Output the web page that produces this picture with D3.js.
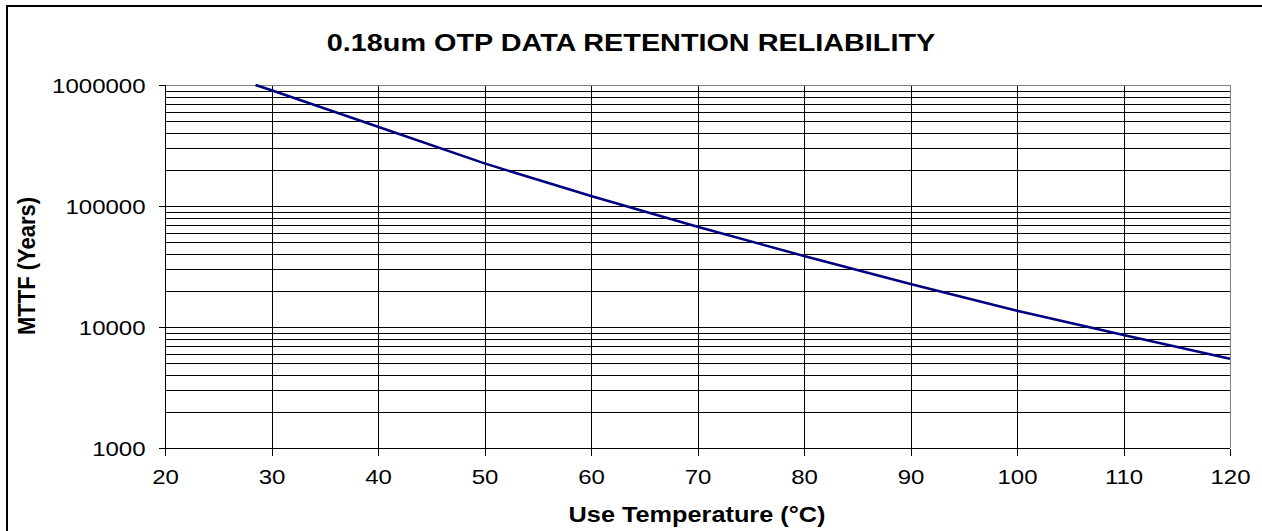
<!DOCTYPE html>
<html>
<head>
<meta charset="utf-8">
<script src="https://cdn.jsdelivr.net/npm/d3@7"></script>
<style>
  html, body { margin: 0; padding: 0; background: #fff; overflow: hidden; }
  svg { display: block; }
  text { font-family: "Liberation Sans", Arial, sans-serif; fill: #000; }
</style>
</head>
<body>
<svg id="chart" width="1262" height="531"></svg>
<script>
// ---- data ----
const title = "0.18um OTP DATA RETENTION RELIABILITY";
const xLabel = "Use Temperature (°C)";
const yLabel = "MTTF (Years)";
const temperatures = [28.5, 30, 40, 50, 60, 70, 80, 90, 100, 110, 120];
const mttfYears    = [1000000, 905000, 452000, 225000, 121000, 67400, 38600, 22650, 13640, 8590, 5470];
const xTicks = [20, 30, 40, 50, 60, 70, 80, 90, 100, 110, 120];
const yTicks = [1000, 10000, 100000, 1000000];
const xDomain = [20, 120];
const yDomain = [1000, 1000000];

(function () {
// ---- layout ----
const svg = d3.select("#chart");
const pL = 165, pR = 1230, pT = 85, pB = 448;
const x = d3.scaleLinear().domain(xDomain).range([pL, pR]);
const y = d3.scaleLog().domain(yDomain).range([pB, pT]);
const sx = 1.2; // horizontal text stretch seen in the reference

// outer frame (only left and top edges visible)
svg.append("path").attr("d", "M7,540V6H1280")
  .attr("fill", "none").attr("stroke", "#000").attr("stroke-width", 2);

// minor/major horizontal gridlines
const minor = [];
for (let d = 1000; d < 1000000; d *= 10) for (let k = 1; k <= 9; k++) minor.push(d * k);
const g = svg.append("g").attr("shape-rendering", "crispEdges");
g.selectAll("line.hg").data(minor.filter(v => v > 1000 && v < 1000000)).join("line")
  .attr("class", "hg")
  .attr("x1", pL).attr("x2", pR)
  .attr("y1", d => Math.round(y(d)) + 0.5).attr("y2", d => Math.round(y(d)) + 0.5)
  .attr("stroke", "#000").attr("stroke-width", 1);
g.selectAll("line.vg").data(xTicks.filter(v => v > 20 && v < 120)).join("line")
  .attr("class", "vg")
  .attr("x1", d => Math.round(x(d)) + 0.5).attr("x2", d => Math.round(x(d)) + 0.5)
  .attr("y1", pT).attr("y2", pB)
  .attr("stroke", "#000").attr("stroke-width", 1);
// plot border top/right (grey)
g.append("line").attr("x1", pL).attr("x2", pR).attr("y1", pT + 0.5).attr("y2", pT + 0.5)
  .attr("stroke", "#808080");
g.append("line").attr("x1", pR + 0.5).attr("x2", pR + 0.5).attr("y1", pT).attr("y2", pB)
  .attr("stroke", "#808080");

// axes
const yAxis = d3.axisLeft(y).tickValues(yTicks).tickFormat(d3.format("d")).tickSize(7).tickPadding(8);
const xAxis = d3.axisBottom(x).tickValues(xTicks).tickFormat(d3.format("d")).tickSize(7).tickPadding(14);
const ya = svg.append("g").attr("transform", `translate(${pL + 0.5},0)`).call(yAxis);
const xa = svg.append("g").attr("transform", `translate(0,${pB + 0.5})`).call(xAxis);
[ya, xa].forEach(a => {
  a.attr("shape-rendering", "crispEdges");
  a.select(".domain").attr("stroke", "#000");
  a.selectAll(".tick line").attr("stroke", "#000");
  a.selectAll("text").attr("font-family", "Liberation Sans, Arial, sans-serif").attr("font-size", 20).attr("fill", "#000");
});
ya.select(".domain").attr("d", `M0,${pT}V${pB}`);
xa.select(".domain").attr("d", `M${pL},0H${pR}`);
// stretch tick labels horizontally
ya.selectAll(".tick text").attr("dy", "0.36em").attr("transform", `scale(${sx},1)`).attr("x", -20 / sx);
xa.selectAll(".tick text").attr("transform", `scale(${sx},1)`).attr("dy", "0.71em").attr("x", 0);

// line series
const line = d3.line().x((d, i) => x(temperatures[i])).y(d => y(d));
svg.append("path").datum(mttfYears).attr("d", line)
  .attr("fill", "none").attr("stroke", "#000080").attr("stroke-width", 2.5);

// titles
svg.append("text").attr("transform", `translate(631,51) scale(1.2,1)`)
  .attr("text-anchor", "middle").attr("font-weight", "bold").attr("font-size", 24).text(title);
svg.append("text").attr("transform", `translate(697,522) scale(1.15,1)`)
  .attr("text-anchor", "middle").attr("font-weight", "bold").attr("font-size", 22).text(xLabel);
svg.append("text").attr("transform", `translate(35,266) rotate(-90) scale(1,1.1)`)
  .attr("text-anchor", "middle").attr("font-weight", "bold").attr("font-size", 22).text(yLabel);
})();
</script>
</body>
</html>
